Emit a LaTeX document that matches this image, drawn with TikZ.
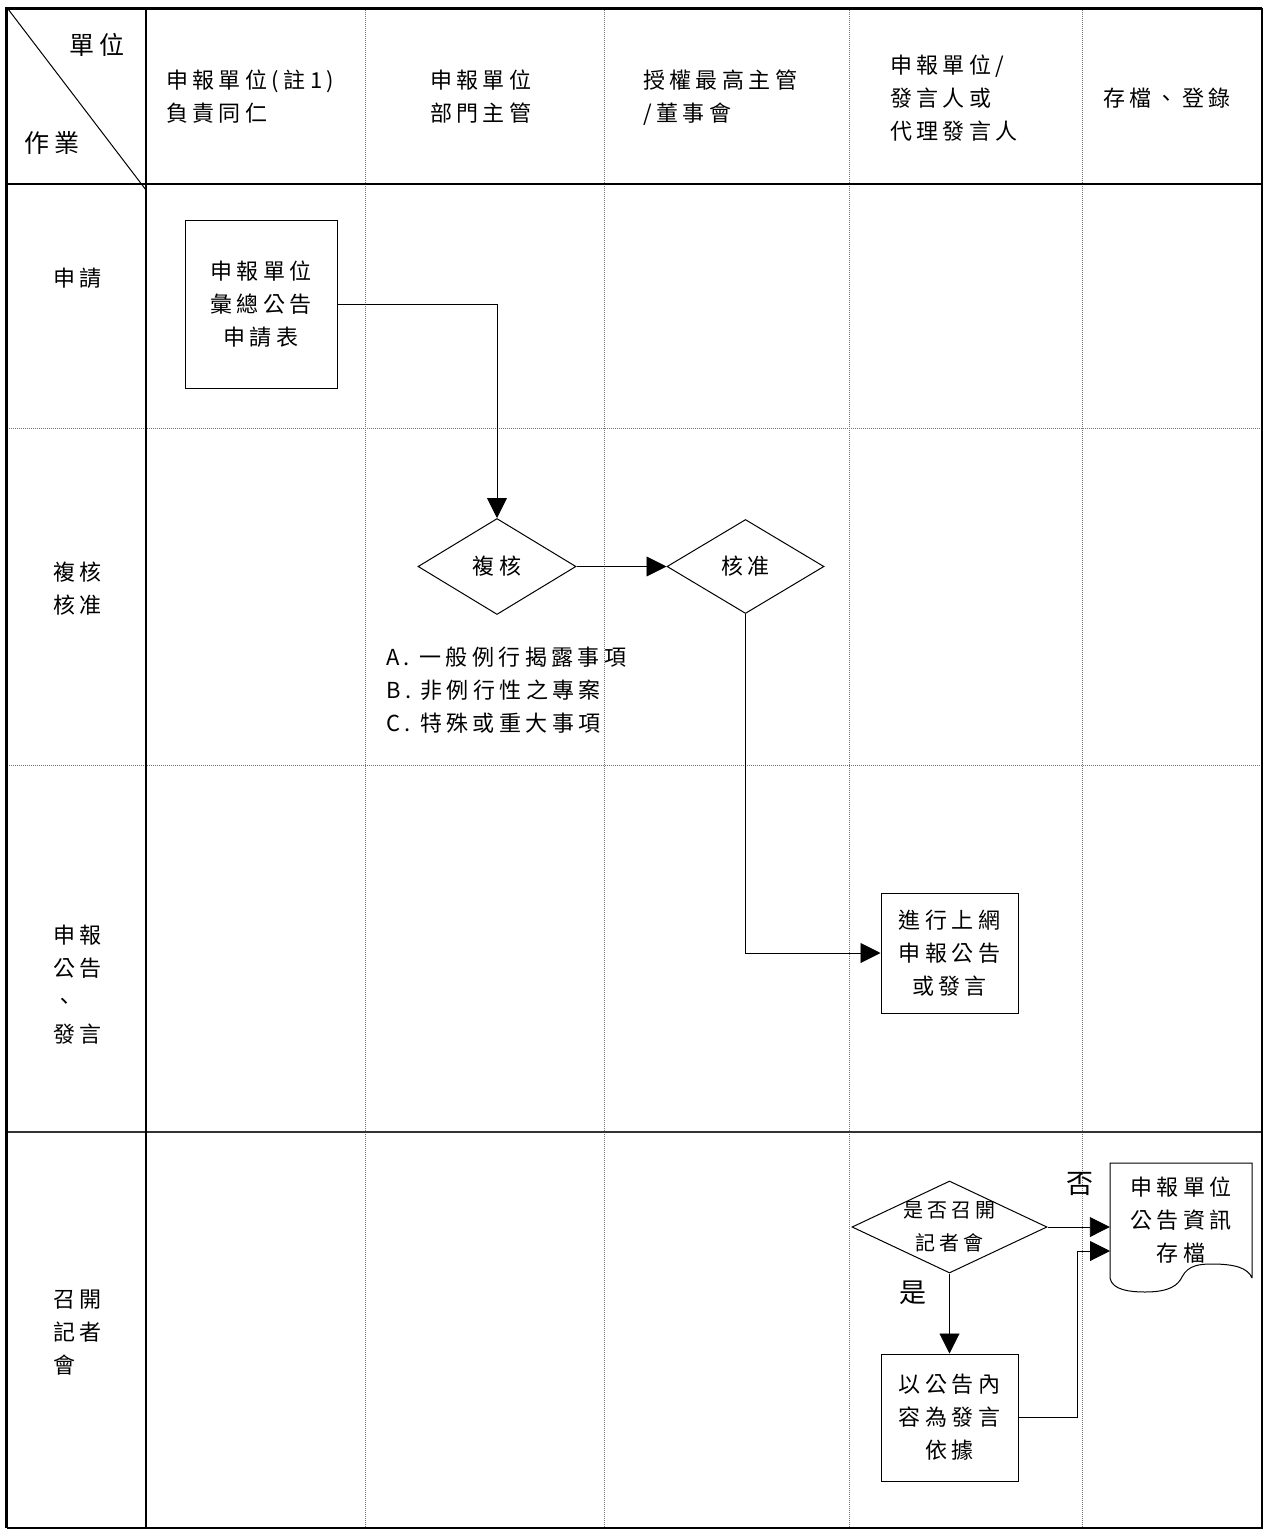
\documentclass[tikz,border=0pt]{standalone}
\usepackage{fontspec}
\setmainfont{Noto Sans CJK TC}[LetterSpace=20]
\usetikzlibrary{arrows.meta,shapes.geometric}
\begin{document}
\begin{tikzpicture}[x=1pt,y=-1pt,
  txt/.style={inner sep=0pt, font=\fontsize{22}{33}\selectfont},
  bigtxt/.style={inner sep=0pt, font=\fontsize{25}{33}\selectfont},
  yntxt/.style={inner sep=0pt, font=\fontsize{27}{33}\selectfont},
  smtxt/.style={inner sep=0pt, font=\fontsize{20}{33}\selectfont},
  box/.style={draw, line width=1pt, inner sep=0pt, align=center},
  dia/.style={draw, diamond, line width=1pt, inner sep=0pt, align=center},
  arr/.style={line width=0.9pt, -{Triangle[length=20pt,width=20pt]}},
  gridline/.style={black!55, line width=1pt, dash pattern=on 1pt off 1pt},
  solidline/.style={black, line width=1.3pt}]
\useasboundingbox (0,0) rectangle (1264,1529);
% grid
\draw[gridline] (7,428) -- (1262,428);
\draw[gridline] (7,765) -- (1262,765);
\foreach \x in {365,604,849,1082} \draw[gridline] (\x,8) -- (\x,1527);
\draw[solidline] (7,184) -- (1262,184);
\draw[black!80, line width=1.6pt] (7,1132) -- (1262,1132);
\draw[solidline] (146,8) -- (146,1527);
\draw[line width=1pt] (8,9) -- (146,190);
% frame
\draw[line width=3pt] (6.5,1528) -- (6.5,8) -- (1262,8);
\draw[line width=2pt] (1262,8) -- (1262,1527.5) -- (6.5,1527.5);
% header
\node[bigtxt] (hunit) at (97,45) {單位};
\node[bigtxt] (hjob) at (52,143) {作業};
\node[txt, anchor=west, align=left] (h1) at (166,97) {申報單位(註1)\\負責同仁};
\node[txt, anchor=west, align=left] (h2) at (430,97) {申報單位\\部門主管};
\node[txt, anchor=west, align=left] (h3) at (643,98) {授權最高主管\\/董事會};
\node[txt, anchor=west, align=left] (h4) at (890,98) {申報單位/\\發言人或\\代理發言人};
\node[txt, anchor=west, align=left] (h5) at (1103,98) {存檔、登錄};
% row labels
\node[txt, anchor=west, align=left] (r1) at (53,278) {申請};
\node[txt, anchor=west, align=left] (r2) at (53,589) {複核\\核准};
\node[txt, anchor=west, align=left] (r3) at (53,985) {申報\\公告\\、\\發言};
\node[txt, anchor=west, align=left] (r4) at (53,1333) {召開\\記者\\會};
% nodes
\node[box, txt, minimum width=152pt, minimum height=168pt] (b1) at (261,304) {申報單位\\彙總公告\\申請表};
\node[dia, txt, minimum width=158pt, minimum height=96pt] (d1) at (497,566.5) {複核};
\node[dia, txt, minimum width=157pt, minimum height=94pt] (d2) at (745.5,566.5) {核准};
\node[txt, anchor=west, align=left] (notes) at (386,690) {A. 一般例行揭露事項\\B. 非例行性之專案\\C. 特殊或重大事項};
\node[box, txt, minimum width=137pt, minimum height=120pt] (b3) at (949.5,953) {進行上網\\申報公告\\或發言};
\node[dia, minimum width=195pt, minimum height=92pt] (d3) at (949.5,1227) {};
\node[smtxt, align=center] (d3t) at (d3.center) {是否召開\\記者會};
\node[box, txt, minimum width=137pt, minimum height=127pt] (b4) at (949.5,1417.5) {以公告內\\容為發言\\依據};
% document shape
\draw[line width=1pt] (1252,1278) -- (1252,1163) -- (1110,1163) -- (1110,1278)
  .. controls (1112,1290) and (1130,1292) .. (1145,1292)
  .. controls (1170,1292) and (1178,1285) .. (1182,1277)
  .. controls (1188,1265) and (1200,1264) .. (1212,1264)
  .. controls (1235,1264) and (1248,1268) .. (1252,1278);
\node[txt, align=center, minimum width=142pt, minimum height=115pt] (doc) at (1181,1220) {申報單位\\公告資訊\\存檔};
\coordinate (docin2) at (1110,1251);
% labels
\node[yntxt] (no) at (1080,1184) {否};
\node[yntxt] (yes) at (913,1293) {是};
% connectors
\draw[arr] (b1.east) -| (d1.north);
\draw[arr] (d1.east) -- (d2.west);
\draw[arr] (d2.south) |- (b3.west);
\draw[arr] (d3.east) -- (doc.west |- d3.east);
\draw[arr] (d3.south) -- (b4.north);
\draw[arr] (b4.east) -- ++(59,0) |- (docin2);
\end{tikzpicture}
\end{document}
